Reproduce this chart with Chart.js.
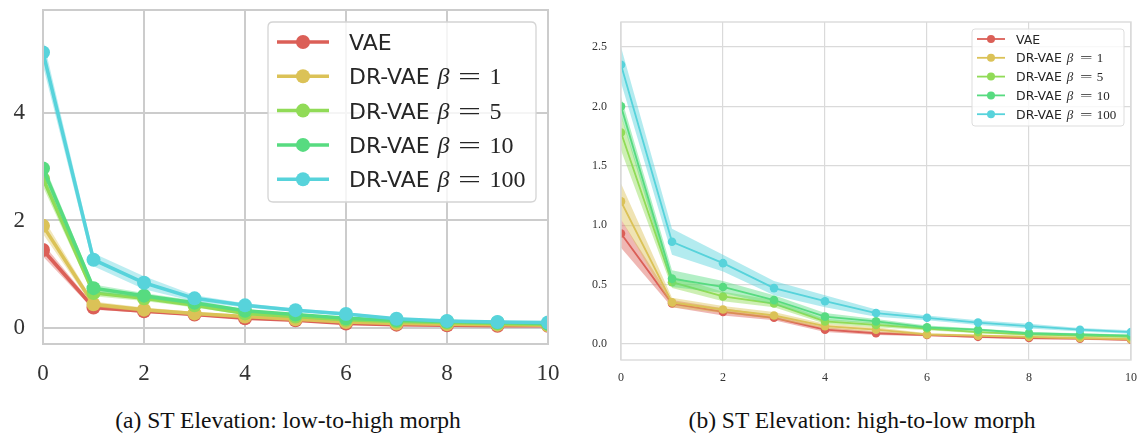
<!DOCTYPE html>
<html><head><meta charset="utf-8">
<script src="https://cdn.jsdelivr.net/npm/chart.js@4.4.1/dist/chart.umd.min.js"></script>
<style>
html,body{margin:0;padding:0;background:#fff;width:1139px;height:436px;overflow:hidden;position:relative}
canvas{position:absolute;top:0}
#cL{left:0}
#cR{left:570px}
.cap{position:absolute;font-family:"Liberation Serif",serif;font-size:23.5px;line-height:23px;color:#111;white-space:nowrap;transform:translateX(-50%)}
</style></head>
<body>
<canvas id="cL" width="570" height="392"></canvas>
<canvas id="cR" width="569" height="392"></canvas>
<div class="cap" style="left:288px;top:409px">(a) ST Elevation: low-to-high morph</div>
<div class="cap" style="left:862px;top:409px">(b) ST Elevation: high-to-low morph</div>
<script>
const xValues = [0,1,2,3,4,5,6,7,8,9,10];
const seriesBase = ['VAE','DR-VAE','DR-VAE','DR-VAE','DR-VAE'];
const seriesBeta = [null,'1','5','10','100'];
const colors = ['#db5f57','#dbc257','#91db57','#57db80','#57d3db'];

// (a) low-to-high morph: means and band half-widths
const leftVAE      = [1.45,0.38,0.31,0.25,0.18,0.14,0.08,0.06,0.05,0.04,0.04];
const leftVAEErr   = [0.12,0.04,0.03,0.03,0.02,0.02,0.02,0.02,0.01,0.01,0.01];
const leftB1       = [1.90,0.44,0.34,0.27,0.21,0.16,0.11,0.08,0.07,0.06,0.05];
const leftB1Err    = [0.15,0.05,0.04,0.03,0.03,0.02,0.02,0.02,0.01,0.01,0.01];
const leftB5       = [2.78,0.65,0.55,0.42,0.27,0.21,0.15,0.12,0.10,0.08,0.07];
const leftB5Err    = [0.15,0.06,0.05,0.04,0.03,0.02,0.02,0.02,0.01,0.01,0.01];
const leftB10      = [2.97,0.74,0.60,0.47,0.32,0.25,0.18,0.14,0.12,0.10,0.08];
const leftB10Err   = [0.12,0.07,0.05,0.04,0.03,0.02,0.02,0.02,0.01,0.01,0.01];
const leftB100     = [5.13,1.27,0.84,0.55,0.42,0.33,0.26,0.17,0.13,0.11,0.10];
const leftB100Err  = [0.25,0.12,0.12,0.06,0.04,0.03,0.03,0.02,0.02,0.01,0.01];

// (b) high-to-low morph
const rightVAE     = [0.93,0.34,0.27,0.22,0.12,0.09,0.075,0.06,0.05,0.045,0.035];
const rightVAEErr  = [0.12,0.03,0.03,0.02,0.02,0.015,0.01,0.01,0.01,0.01,0.01];
const rightB1      = [1.20,0.35,0.29,0.24,0.15,0.12,0.08,0.07,0.06,0.05,0.04];
const rightB1Err   = [0.15,0.04,0.03,0.03,0.02,0.02,0.01,0.01,0.01,0.01,0.01];
const rightB5      = [1.78,0.52,0.40,0.34,0.19,0.16,0.13,0.10,0.08,0.07,0.06];
const rightB5Err   = [0.15,0.05,0.04,0.03,0.02,0.02,0.015,0.01,0.01,0.01,0.01];
const rightB10     = [2.00,0.55,0.48,0.37,0.23,0.19,0.14,0.12,0.09,0.08,0.07];
const rightB10Err  = [0.08,0.07,0.05,0.04,0.03,0.02,0.015,0.01,0.01,0.01,0.01];
const rightB100    = [2.35,0.86,0.68,0.47,0.36,0.26,0.22,0.18,0.15,0.12,0.10];
const rightB100Err = [0.15,0.11,0.07,0.06,0.05,0.03,0.02,0.02,0.02,0.015,0.015];

const xTicks = [0,2,4,6,8,10];
const leftYTicks = [0,2,4];
const leftYTickLabels = ['0','2','4'];
const rightYTicks = [0,0.5,1,1.5,2,2.5];
const rightYTickLabels = ['0.0','0.5','1.0','1.5','2.0','2.5'];

function rgba(hex,a){const n=parseInt(hex.slice(1),16);return `rgba(${n>>16&255},${n>>8&255},${n&255},${a})`;}

function buildDatasets(means, errs, lineW, radius, bandAlpha){
  const ds=[];
  means.forEach((m,s)=>{
    const c=colors[s], ord=(4-s)*3;
    ds.push({data:xValues.map((x,i)=>({x,y:m[i]+errs[s][i]})),borderWidth:0,pointRadius:0,fill:false,order:ord+2,clip:0,borderColor:'rgba(0,0,0,0)'});
    ds.push({data:xValues.map((x,i)=>({x,y:m[i]-errs[s][i]})),borderWidth:0,pointRadius:0,fill:'-1',backgroundColor:rgba(c,bandAlpha),order:ord+1,clip:0,borderColor:'rgba(0,0,0,0)'});
    ds.push({data:xValues.map((x,i)=>({x,y:m[i]})),borderColor:c,backgroundColor:c,borderWidth:lineW,pointRadius:radius,pointBackgroundColor:c,pointBorderWidth:0,pointHoverRadius:radius,fill:false,order:ord,clip:0,tension:0});
  });
  return ds;
}

function framePlugin(color,width){
  return {id:'frame',afterDatasetsDraw(chart){
    const a=chart.chartArea,ctx=chart.ctx;ctx.save();ctx.strokeStyle=color;ctx.lineWidth=width;
    ctx.strokeRect(a.left,a.top,a.right-a.left,a.bottom-a.top);ctx.restore();}};
}

function roundRect(ctx,x,y,w,h,r){ctx.beginPath();ctx.moveTo(x+r,y);ctx.lineTo(x+w-r,y);ctx.quadraticCurveTo(x+w,y,x+w,y+r);ctx.lineTo(x+w,y+h-r);ctx.quadraticCurveTo(x+w,y+h,x+w-r,y+h);ctx.lineTo(x+r,y+h);ctx.quadraticCurveTo(x,y+h,x,y+h-r);ctx.lineTo(x,y+r);ctx.quadraticCurveTo(x,y,x+r,y);ctx.closePath();}

function legendPlugin(L){
  return {id:'mlegend',afterDraw(chart){
    const ctx=chart.ctx;ctx.save();
    roundRect(ctx,L.x,L.y,L.w,L.h,L.r);
    ctx.fillStyle='rgba(255,255,255,0.8)';ctx.fill();
    ctx.strokeStyle=L.border;ctx.lineWidth=L.bw;ctx.stroke();
    seriesBase.forEach((name,i)=>{
      const y=L.row0+i*L.dy, c=colors[i];
      ctx.strokeStyle=c;ctx.lineWidth=L.lw;ctx.beginPath();ctx.moveTo(L.lx0,y);ctx.lineTo(L.lx1,y);ctx.stroke();
      ctx.fillStyle=c;ctx.beginPath();ctx.arc((L.lx0+L.lx1)/2,y,L.mr,0,Math.PI*2);ctx.fill();
      ctx.fillStyle='#262626';ctx.textBaseline='alphabetic';ctx.textAlign='left';
      ctx.font=`${L.fs}px "DejaVu Sans"`;
      const base=y+L.fs*0.36;
      ctx.fillText(name,L.tx,base);
      if(seriesBeta[i]){
        const end=L.tx+ctx.measureText(name).width;
        ctx.font=`italic ${L.ms}px "Liberation Serif"`;
        ctx.fillText('β',end+L.o1,base);
        ctx.save();
        ctx.translate(end+L.oc,base);ctx.scale(L.eqScale,1);
        ctx.font=`${L.ms}px "Liberation Serif"`;ctx.textAlign='center';
        ctx.fillText('=',0,0);
        ctx.restore();
        ctx.font=`${L.ms}px "Liberation Serif"`;ctx.textAlign='left';
        ctx.fillText(seriesBeta[i],end+L.o3,base);
      }
    });
    ctx.restore();}};
}

function makeChart(id,cfg){
  return new Chart(document.getElementById(id),{
    type:'line',
    data:{datasets:buildDatasets(cfg.means,cfg.errs,cfg.lineW,cfg.radius,cfg.alpha)},
    options:{
      responsive:false,animation:false,events:[],
      layout:{padding:cfg.padding},
      plugins:{legend:{display:false},tooltip:{enabled:false}},
      scales:{
        x:{type:'linear',min:0,max:10,
          afterBuildTicks:s=>{s.ticks=xTicks.map(v=>({value:v}));},
          afterFit:s=>{s.height=cfg.xh;s.paddingLeft=0;s.paddingRight=0;},
          grid:{color:cfg.gridColor,lineWidth:cfg.gridW,drawTicks:false},
          border:{display:false},
          ticks:{font:{family:'Liberation Serif',size:cfg.tickSize},color:'#333',padding:cfg.xPad,maxRotation:0,autoSkip:false,callback:v=>String(v)}},
        y:{type:'linear',min:cfg.ymin,max:cfg.ymax,
          afterBuildTicks:s=>{s.ticks=cfg.yTicks.map(v=>({value:v}));},
          afterFit:s=>{s.width=cfg.yw;s.paddingTop=0;s.paddingBottom=0;},
          grid:{color:cfg.gridColor,lineWidth:cfg.gridW,drawTicks:false},
          border:{display:false},
          ticks:{font:{family:'Liberation Serif',size:cfg.tickSize},color:'#333',padding:cfg.yPad,autoSkip:false,callback:(v,i)=>cfg.yLabels[i]}}
      }
    },
    plugins:[framePlugin(cfg.gridColor,cfg.frameW),legendPlugin(cfg.legend)]
  });
}

makeChart('cL',{
  means:[leftVAE,leftB1,leftB5,leftB10,leftB100],
  errs:[leftVAEErr,leftB1Err,leftB5Err,leftB10Err,leftB100Err],
  lineW:3.5,radius:7,alpha:0.4,
  padding:{left:0,top:10,right:22,bottom:0},
  xh:48,yw:43,xPad:16,yPad:18,tickSize:23,
  ymin:-0.3,ymax:5.92,yTicks:leftYTicks,yLabels:leftYTickLabels,
  gridColor:'#cccccc',gridW:2,frameW:2,
  legend:{x:268,y:22,w:268,h:180,r:5,border:'#d4d4d4',bw:1.3,row0:42,dy:34.3,lx0:277,lx1:329,lw:3.5,mr:7,tx:349,fs:22,ms:24,o1:8,oc:40,eqScale:1.7,o3:60}
});

makeChart('cR',{
  means:[rightVAE,rightB1,rightB5,rightB10,rightB100],
  errs:[rightVAEErr,rightB1Err,rightB5Err,rightB10Err,rightB100Err],
  lineW:1.8,radius:4.3,alpha:0.45,
  padding:{left:0,top:22,right:8,bottom:0},
  xh:32,yw:51,xPad:11,yPad:14,tickSize:12,
  ymin:-0.135,ymax:2.71,yTicks:rightYTicks,yLabels:rightYTickLabels,
  gridColor:'#dadada',gridW:1.2,frameW:1.4,
  legend:{x:402,y:29,w:152,h:97,r:3,border:'#dddddd',bw:1,row0:39,dy:18.8,lx0:407,lx1:435,lw:1.8,mr:4,tx:446,fs:12.5,ms:13,o1:5,oc:24.5,eqScale:1.7,o3:35}
});
</script>
</body></html>
